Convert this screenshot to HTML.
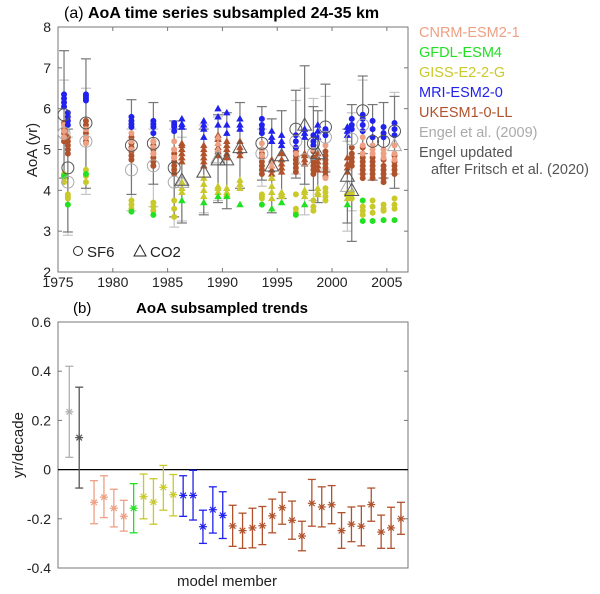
<!DOCTYPE html>
<html><head><meta charset="utf-8">
<style>
html,body{margin:0;padding:0;background:#fff;}
svg{display:block;font-family:"Liberation Sans",Arial,sans-serif;}
</style></head>
<body>
<svg id="fig" width="600" height="594" viewBox="0 0 600 594" xmlns="http://www.w3.org/2000/svg">
<g id="pa"></g>
<g id="pb"></g>
</svg>
<script>
// ---------- Panel (a) data ----------
const campYears=[1975.55,1975.9,1977.55,1981.7,1983.7,1985.6,1986.3,1988.3,1989.6,1990.4,1991.6,1993.6,1994.5,1995.4,1996.7,1997.5,1998.3,1998.7,1999.4,2001.4,2001.8,2002.8,2003.7,2004.7,2005.7];
const campType=['o','o','o','o','o','o','^','^','^','^','^','o','^','^','o','^','o','^','o','^','o','o','o','o','o'];
const darkVal=[5.85,4.55,5.65,5.1,5.15,4.55,4.25,4.45,4.75,4.75,5.05,5.15,4.6,4.85,5.5,5.6,5.15,4.9,5.55,4.35,4.0,5.95,5.2,5.2,5.45];
const darkType=['o','o','o','o','o','o','^','^','^','^','^','o','^','^','o','^','o','^','o','^','^','o','o','o','o'];
const darkLo=[4.3,2.98,4.05,3.9,4.15,3.35,3.2,3.4,3.7,3.55,4.05,4.25,3.45,3.8,4.3,4.15,4.0,3.7,4.45,3.2,2.75,4.9,4.25,4.3,4.05];
const darkHi=[7.42,5.5,7.22,6.22,6.15,5.7,5.5,5.5,5.85,5.9,6.15,6.05,5.75,5.95,6.45,7.05,6.05,5.95,6.6,5.5,6.1,6.8,6.1,6.15,6.3];
const lightVal=[5.4,4.2,5.2,4.5,4.6,4.2,4.2,4.45,4.8,null,null,4.9,null,null,5.2,4.75,4.9,null,5.3,4.1,5.25,5.6,null,null,5.1];
const lightType=['o','o','o','o','o','o','^','^','^','^','^','o','^','^','o','o','o','^','o','^','o','o','o','o','^'];
const lightLo=[4.3,2.9,3.9,3.5,3.6,3.1,3.25,3.45,3.75,null,null,4.1,null,null,4.4,3.4,3.75,null,4.5,3.0,3.5,4.4,null,null,4.4];
const lightHi=[6.7,5.3,6.5,5.5,5.5,5.5,5.3,5.6,5.8,null,null,5.5,null,null,6.2,6.5,6.25,null,6.3,5.2,5.9,6.7,null,null,6.4];
const mriVals=[[6.05,6.15,6.25,6.35],[5.6,5.7,5.8,5.9],[6.2,6.25,6.3,6.35],[5.55,5.62,5.7,5.8],[5.4,5.55,5.62,5.7],[5.45,5.55,5.6,5.65],[5.55,5.62,5.75],[5.3,5.5,5.6,5.7],[5.6,5.8,6.0],[5.4,5.6,5.9],[5.5,5.6,5.75],[5.4,5.5,5.6,5.75],[5.2,5.3,5.45],[5.1,5.2,5.35],[5.05,5.2,5.35],[5.3,5.4,5.5],[5.1,5.2,5.35],[5.3,5.45,5.6],[5.35,5.45,5.5],[5.35,5.45,5.55],[5.5,5.6,5.75],[5.45,5.6,5.75,5.85],[5.3,5.5,5.7],[5.3,5.4,5.55],[5.35,5.5,5.65]];
const ukVals=[[5.2,5.3,5.4,5.5,5.6,5.65],[4.9,5.0,5.1,5.2,5.3],[5.2,5.3,5.4,5.5,5.6,5.7],[4.75,4.85,4.95,5.05,5.15,5.3],[4.6,4.7,4.8,4.9,5.0,5.1,5.2],[4.4,4.5,4.6,4.7,4.8,4.9,5.0],[4.7,4.8,4.9,5.0,5.1,5.15],[4.6,4.7,4.8,4.9,5.0,5.1],[4.85,4.95,5.05,5.15,5.25,5.35],[4.8,4.9,5.0,5.1,5.2],[4.85,4.95,5.05,5.2],[4.4,4.5,4.6,4.7,4.8,4.9],[4.3,4.4,4.5,4.6,4.75],[4.45,4.55,4.65,4.75,4.9],[4.45,4.55,4.65,4.75,4.85,4.95,5.05],[4.65,4.75,4.85,4.9],[4.4,4.5,4.6,4.7,4.8,4.95],[4.5,4.6,4.7,4.8,4.9],[4.35,4.45,4.55,4.65,4.75,4.85,4.95],[4.45,4.55,4.65,4.8],[4.6,4.7,4.8,4.9,5.05],[4.3,4.4,4.5,4.6,4.7,4.8,4.9,5.05],[4.3,4.4,4.5,4.6,4.7,4.8],[4.2,4.3,4.4,4.5,4.6,4.75],[4.4,4.5,4.6,4.7,4.85]];
const cnrmVals=[[5.3,5.45,5.6],[],[5.15,5.3,5.5],[5.0,5.2,5.4],[4.9,5.05,5.2],[4.8,5.0,5.2],[],[],[5.0,5.15,5.3],[],[],[4.85,5.0,5.15],[4.6,4.7],[],[4.9,5.05],[],[5.0,5.1],[],[4.3,5.1],[],[],[4.9,5.1,5.3],[4.9,5.0,5.1],[4.8,4.9,5.0],[4.75,4.9,5.1]];
const gissVals=[[4.2,4.3,4.4],[3.8,3.85,3.9],[4.2,4.35,4.5],[3.55,3.65,3.75],[3.5,3.6,3.7],[3.35,3.55,3.75],[3.95,4.05,4.2],[3.85,4.0,4.15,4.3],[3.95,4.05,4.1],[3.9,3.95,4.05],[4.05,4.15,4.25],[3.8,3.85,3.9],[3.8,3.95,4.1,4.3],[3.85,3.9,3.95],[3.45,3.55,3.9],[3.85,3.95,4.0],[3.5,3.6,3.75],[3.9,3.95,4.05],[3.75,3.85,3.95,4.05],[3.8,3.9,3.95],[3.8,3.9,3.95],[3.4,3.5,3.6],[3.45,3.6,3.75],[3.5,3.55,3.65],[3.55,3.65,3.8]];
const gfdlVals=[[4.35],[3.65],[4.4],[3.48],[3.4],[],[3.75],[3.7],[3.85],[3.85],[3.65],[3.65],[3.55],[3.7],[3.4],[3.65],[],[],[],[3.65],[],[3.25,3.75],[3.25],[3.27],[3.27]];
const xTicksA=[1975,1980,1985,1990,1995,2000,2005];
const yTicksA=[2,3,4,5,6,7,8];

// ---------- Panel (b) data ----------
const trendPos=[0,1,2.5,3.5,4.5,5.5,6.5,7.5,8.5,9.5,10.5,11.5,12.5,13.5,14.5,15.5,16.5,17.5,18.5,19.5,20.5,21.5,22.5,23.5,24.5,25.5,26.5,27.5,28.5,29.5,30.5,31.5,32.5,33.5];
const trendGroup=['engel','engelup','cnrm','cnrm','cnrm','cnrm','gfdl','giss','giss','giss','giss','mri','mri','mri','mri','mri','uk','uk','uk','uk','uk','uk','uk','uk','uk','uk','uk','uk','uk','uk','uk','uk','uk','uk'];
const trendVal=[0.235,0.13,-0.133,-0.112,-0.157,-0.19,-0.157,-0.11,-0.132,-0.072,-0.102,-0.105,-0.105,-0.232,-0.163,-0.186,-0.229,-0.248,-0.237,-0.228,-0.188,-0.155,-0.206,-0.27,-0.137,-0.152,-0.143,-0.248,-0.222,-0.23,-0.142,-0.254,-0.237,-0.2];
const trendLo=[0.05,-0.075,-0.22,-0.195,-0.233,-0.25,-0.257,-0.2,-0.222,-0.165,-0.188,-0.19,-0.205,-0.3,-0.258,-0.28,-0.312,-0.32,-0.318,-0.305,-0.257,-0.222,-0.283,-0.33,-0.23,-0.233,-0.22,-0.32,-0.293,-0.31,-0.21,-0.32,-0.32,-0.263];
const trendHi=[0.42,0.335,-0.045,-0.025,-0.08,-0.125,-0.057,-0.018,-0.037,0.017,-0.02,-0.025,-0.003,-0.165,-0.07,-0.09,-0.145,-0.177,-0.157,-0.15,-0.12,-0.092,-0.128,-0.21,-0.04,-0.07,-0.065,-0.175,-0.152,-0.148,-0.075,-0.185,-0.153,-0.133];
const yTicksB=[-0.4,-0.2,0,0.2,0.4,0.6];

const COL={cnrm:'#eea084',gfdl:'#22e022',giss:'#c9c92a',mri:'#2222ee',uk:'#b0532c',engel:'#b0b0b0',engelup:'#555555'};
const NS='http://www.w3.org/2000/svg';
function mk(parent,tag,attrs,text){const e=document.createElementNS(NS,tag);for(const k in attrs)e.setAttribute(k,attrs[k]);if(text!==undefined)e.textContent=text;parent.appendChild(e);return e;}

// ---------- Panel (a) ----------
const pa=document.getElementById('pa');
const AX={l:58,r:408,t:27,b:272};
const xa=y=>AX.l+(y-1975)*(AX.r-AX.l)/(2006.93-1975);
const ya=v=>AX.b-(v-2)*(AX.b-AX.t)/6;

let t=mk(pa,'text',{x:64,y:18,'font-size':16});


mk(t,'tspan',{},'(a) ');
mk(t,'tspan',{'font-weight':'bold'},'AoA time series subsampled 24-35 km');

let box=mk(pa,'rect',{x:AX.l,y:AX.t,width:AX.r-AX.l,height:AX.b-AX.t,fill:'none',stroke:'#777','stroke-width':1});


yTicksA.forEach(v=>{
  const yy=ya(v);
  mk(pa,'line',{x1:AX.l,x2:AX.l+4,y1:yy,y2:yy,stroke:'#777'});
  mk(pa,'line',{x1:AX.r,x2:AX.r-4,y1:yy,y2:yy,stroke:'#777'});
  const l=mk(pa,'text',{x:AX.l-7,y:yy+5,'font-size':14,'text-anchor':'end',fill:'#222'},String(v));
  
  
});
xTicksA.forEach(v=>{
  const xx=xa(v);
  mk(pa,'line',{x1:xx,x2:xx,y1:AX.b,y2:AX.b-4,stroke:'#777'});
  mk(pa,'line',{x1:xx,x2:xx,y1:AX.t,y2:AX.t+4,stroke:'#777'});
  const l=mk(pa,'text',{x:xx,y:AX.b+15,'font-size':14,'text-anchor':'middle',fill:'#222'},String(v));
  
  
});
let yl=mk(pa,'text',{x:0,y:0,'font-size':15,'text-anchor':'middle',fill:'#222',transform:'translate(37,150) rotate(-90)'},'AoA (yr)');



const eb=pa.appendChild(document.createElementNS(NS,'g'));


function errbar(g,x,lo,hi,col){
  mk(g,'line',{x1:x,x2:x,y1:ya(lo),y2:ya(hi),stroke:col,'stroke-width':1.2});
  mk(g,'line',{x1:x-5,x2:x+5,y1:ya(lo),y2:ya(lo),stroke:col,'stroke-width':1.2});
  mk(g,'line',{x1:x-5,x2:x+5,y1:ya(hi),y2:ya(hi),stroke:col,'stroke-width':1.2});
}
campYears.forEach((yr,i)=>{
  if(lightVal[i]!==null) errbar(eb,xa(yr),lightLo[i],lightHi[i],'#c4c4c4');
});
campYears.forEach((yr,i)=>{ errbar(eb,xa(yr),darkLo[i],darkHi[i],'#777'); });

function marker(g,type,x,y,r,fill,stroke){
  if(type==='o') return mk(g,'circle',{cx:x,cy:y,r:r,fill:fill,stroke:stroke,'stroke-width':1});
  const h=r*1.15;
  return mk(g,'polygon',{points:`${x},${y-h} ${x-h},${y+h*0.75} ${x+h},${y+h*0.75}`,fill:fill,stroke:stroke,'stroke-width':1});
}
const modelSets=[['uk',ukVals],['cnrm',cnrmVals],['giss',gissVals],['gfdl',gfdlVals],['mri',mriVals]];
modelSets.forEach(([key,vals])=>{
  const g=pa.appendChild(document.createElementNS(NS,'g'));
  
  
  vals.forEach((arr,i)=>{
    arr.forEach(v=>{
      const m=marker(g,campType[i],xa(campYears[i]),ya(v),2.5,COL[key],COL[key]);
      
      
    });
  });
});
const og=pa.appendChild(document.createElementNS(NS,'g'));


campYears.forEach((yr,i)=>{
  if(lightVal[i]!==null){
    const m=marker(og,lightType[i],xa(yr),ya(lightVal[i]),6,'none','#aaa');
    
    
  }
  const m2=marker(og,darkType[i],xa(yr),ya(darkVal[i]),6,'none','#555');
  
  
});
// symbol legend
const sl=pa.appendChild(document.createElementNS(NS,'g'));


mk(sl,'circle',{cx:78,cy:251,r:4.5,fill:'none',stroke:'#222','stroke-width':1});
mk(sl,'text',{x:87,y:257,'font-size':15,fill:'#222'},'SF6');
mk(sl,'polygon',{points:'140,245 134,256 146,256',fill:'none',stroke:'#222','stroke-width':1});
mk(sl,'text',{x:150,y:257,'font-size':15,fill:'#222'},'CO2');

// model legend
const lg=pa.appendChild(document.createElementNS(NS,'g'));


const legItems=[['CNRM-ESM2-1',COL.cnrm,37],['GFDL-ESM4',COL.gfdl,57],['GISS-E2-2-G',COL.giss,77],['MRI-ESM2-0',COL.mri,97],['UKESM1-0-LL',COL.uk,117],['Engel et al. (2009)','#aaaaaa',137]];
legItems.forEach(([n,c,y])=>{
  const e=mk(lg,'text',{x:419,y:y,'font-size':14.5,fill:c},n);
  
  
});
let le=mk(lg,'text',{x:419,y:157,'font-size':14.5,fill:'#555'},'Engel updated');


mk(lg,'text',{x:431,y:174,'font-size':14.5,fill:'#555'},'after Fritsch et al. (2020)');

// ---------- Panel (b) ----------
const pb=document.getElementById('pb');
const BX={l:58,r:408,t:322,b:568};
const xb=p=>69.3+p*9.9;
const yb=v=>BX.b-(v+0.4)*(BX.b-BX.t)/1.0;

let tb=mk(pb,'text',{x:73,y:313,'font-size':15},'(b)');


let tb2=mk(pb,'text',{x:222,y:313,'font-size':15,'font-weight':'bold','text-anchor':'middle'},'AoA subsampled trends');


let boxb=mk(pb,'rect',{x:BX.l,y:BX.t,width:BX.r-BX.l,height:BX.b-BX.t,fill:'none',stroke:'#777','stroke-width':1});


yTicksB.forEach(v=>{
  const yy=yb(v);
  mk(pb,'line',{x1:BX.l,x2:BX.l+4,y1:yy,y2:yy,stroke:'#777'});
  mk(pb,'line',{x1:BX.r,x2:BX.r-4,y1:yy,y2:yy,stroke:'#777'});
  const l=mk(pb,'text',{x:BX.l-7,y:yy+5,'font-size':14,'text-anchor':'end',fill:'#222'},v===0?'0':v.toFixed(1));
  
  
});
let zl=mk(pb,'line',{x1:BX.l,x2:BX.r,y1:yb(0),y2:yb(0),stroke:'#000','stroke-width':1.2});


let ylb=mk(pb,'text',{x:0,y:0,'font-size':15,'text-anchor':'middle',fill:'#222',transform:'translate(23,445) rotate(-90)'},'yr/decade');


let xlb=mk(pb,'text',{x:227,y:586,'font-size':15,'text-anchor':'middle',fill:'#222'},'model member');



trendVal.forEach((v,i)=>{
  const g=pb.appendChild(document.createElementNS(NS,'g'));
  
  
  const c=COL[trendGroup[i]], x=xb(trendPos[i]);
  const lo=yb(trendLo[i]), hi=yb(trendHi[i]), y=yb(v);
  mk(g,'line',{x1:x,x2:x,y1:lo,y2:hi,stroke:c,'stroke-width':1.3});
  mk(g,'line',{x1:x-4,x2:x+4,y1:lo,y2:lo,stroke:c,'stroke-width':1.3});
  mk(g,'line',{x1:x-4,x2:x+4,y1:hi,y2:hi,stroke:c,'stroke-width':1.3});
  const s=4;
  mk(g,'line',{x1:x-s,x2:x+s,y1:y,y2:y,stroke:c,'stroke-width':1.2});
  mk(g,'line',{x1:x,x2:x,y1:y-s,y2:y+s,stroke:c,'stroke-width':1.2});
  mk(g,'line',{x1:x-s*0.7,x2:x+s*0.7,y1:y-s*0.7,y2:y+s*0.7,stroke:c,'stroke-width':1.2});
  mk(g,'line',{x1:x-s*0.7,x2:x+s*0.7,y1:y+s*0.7,y2:y-s*0.7,stroke:c,'stroke-width':1.2});
});
</script>
</body></html>
